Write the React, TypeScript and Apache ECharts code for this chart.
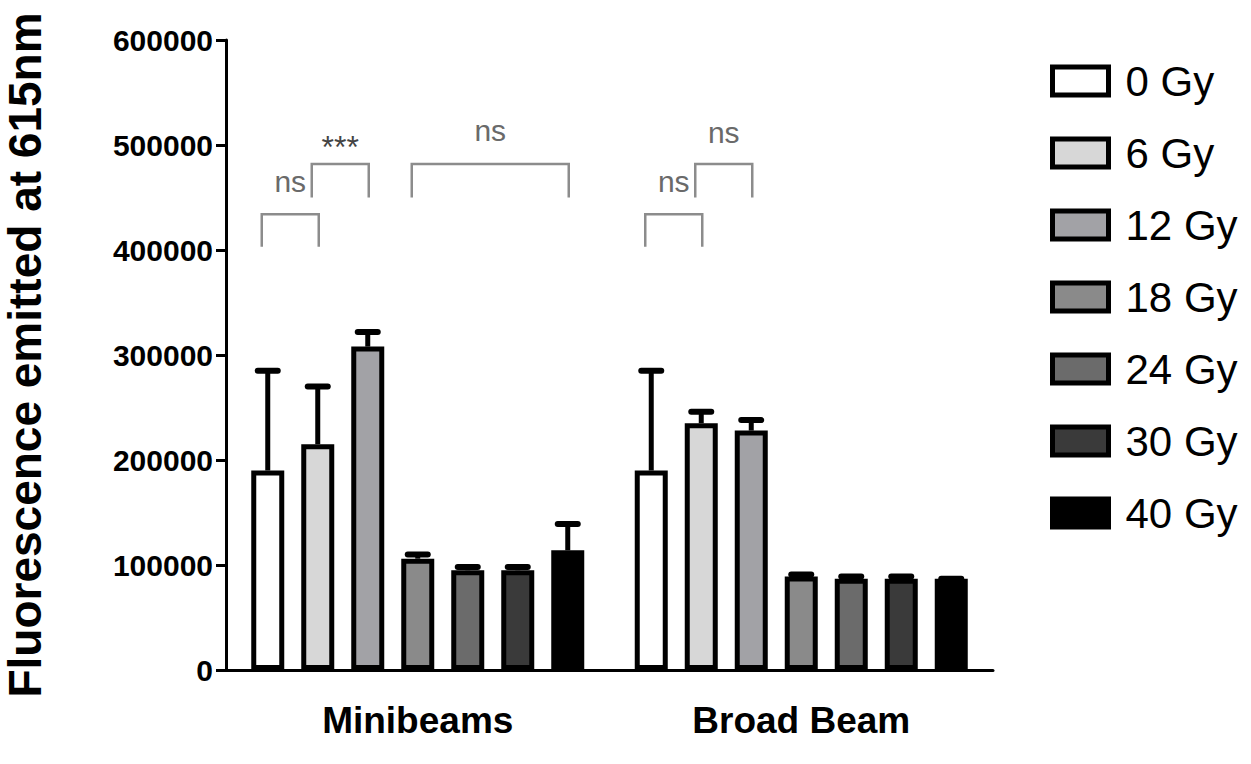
import React, { useEffect, useRef } from 'react';
import * as echarts from 'echarts';

const categories = ['Minibeams', 'Broad Beam'];
const doses = ['0 Gy', '6 Gy', '12 Gy', '18 Gy', '24 Gy', '30 Gy', '40 Gy'];
const doseColors = ['#ffffff', '#d7d7d7', '#a2a2a6', '#8a8a8a', '#6b6b6b', '#3a3a3a', '#000000'];

const minibeamsMean = [190000, 215000, 308000, 106000, 95000, 95000, 114000];
const minibeamsUpper = [285000, 270000, 322000, 110000, 98000, 98000, 139000];
const broadBeamMean = [190000, 235000, 228000, 89000, 87000, 87000, 87000];
const broadBeamUpper = [285000, 246000, 238000, 91000, 89000, 89000, 87000];

const yMin = 0;
const yMax = 600000;
const yInterval = 100000;

// significance brackets (category index, from dose index, to dose index, values in data units)
const bracketCat = [0, 0, 0, 1, 1];
const bracketFrom = [0, 1, 3, 0, 1];
const bracketTo = [1, 2, 6, 1, 2];
const bracketTop = [434000, 482000, 482000, 434000, 482000];
const bracketLeg = [403000, 450000, 450000, 403000, 450000];
const bracketLabel = ['ns', '***', 'ns', 'ns', 'ns'];
const bracketLabelY = [465000, 498000, 514000, 465000, 512000];

const BAR_WIDTH = 33;
const BAR_GAP_PX = 17;
const BAR_PITCH = BAR_WIDTH + BAR_GAP_PX;

export default function App() {
  const ref = useRef<HTMLDivElement>(null);

  useEffect(() => {
    if (!ref.current) return;
    const chart = echarts.init(ref.current, null, { renderer: 'svg' });

    const barSeries = doses.map((d, i) => ({
      type: 'bar',
      name: d,
      data: [minibeamsMean[i], broadBeamMean[i]],
      barWidth: BAR_WIDTH,
      barGap: (BAR_GAP_PX / BAR_WIDTH) * 100 + '%',
      itemStyle: { color: doseColors[i], borderColor: '#000', borderWidth: 5 },
      emphasis: { disabled: true },
      z: 2,
    }));

    const errData: number[][] = [];
    doses.forEach((_, i) => {
      errData.push([0, i, minibeamsMean[i], minibeamsUpper[i]]);
      errData.push([1, i, broadBeamMean[i], broadBeamUpper[i]]);
    });

    const errorSeries = {
      type: 'custom',
      name: 'error',
      silent: true,
      z: 3,
      data: errData,
      encode: { x: 0, y: [2, 3] },
      renderItem: (params: any, api: any) => {
        const cat = api.value(0);
        const dose = api.value(1);
        const mean = api.value(2);
        const up = api.value(3);
        const base = api.coord([cat, mean]);
        const top = api.coord([cat, up]);
        const x = base[0] + (dose - 3) * BAR_PITCH;
        return {
          type: 'group',
          children: [
            { type: 'line', shape: { x1: x, y1: base[1], x2: x, y2: top[1] }, style: { stroke: '#000', lineWidth: 5 } },
            { type: 'line', shape: { x1: x - 10, y1: top[1], x2: x + 10, y2: top[1] }, style: { stroke: '#000', lineWidth: 6, lineCap: 'round' } },
          ],
        };
      },
    };

    const bracketSeries = {
      type: 'custom',
      name: 'brackets',
      silent: true,
      z: 4,
      data: bracketCat.map((c, i) => [c, bracketTop[i]]),
      renderItem: (params: any, api: any) => {
        const i = params.dataIndex;
        const c = bracketCat[i];
        const center = api.coord([c, 0])[0];
        const xl = center + (bracketFrom[i] - 3) * BAR_PITCH - 6;
        const xr = center + (bracketTo[i] - 3) * BAR_PITCH + 1;
        const yTop = api.coord([c, bracketTop[i]])[1];
        const yLeg = api.coord([c, bracketLeg[i]])[1];
        const yLab = api.coord([c, bracketLabelY[i]])[1];
        const isStar = bracketLabel[i] === '***';
        return {
          type: 'group',
          children: [
            {
              type: 'polyline',
              shape: { points: [[xl, yLeg], [xl, yTop], [xr, yTop], [xr, yLeg]] },
              style: { stroke: '#8c8c8c', lineWidth: 2.5, fill: 'none' },
            },
            {
              type: 'text',
              x: (xl + xr) / 2,
              y: yLab,
              style: {
                text: bracketLabel[i],
                fontSize: isStar ? 32 : 30,
                fontFamily: 'Liberation Sans, Arial, sans-serif',
                fill: isStar ? '#444' : '#6a6a6a',
                align: 'center',
                verticalAlign: 'middle',
              },
            },
          ],
        };
      },
    };

    chart.setOption({
      animation: false,
      backgroundColor: '#ffffff',
      grid: { left: 226, right: 258, top: 40, bottom: 94, outerBoundsMode: 'none' },
      legend: {
        orient: 'vertical',
        left: 1045,
        top: 55,
        itemWidth: 56,
        itemHeight: 28,
        itemGap: 30,
        icon: 'rect',
        selectedMode: false,
        data: doses,
        itemStyle: { borderColor: '#000', borderWidth: 5 },
        textStyle: {
          fontSize: 42,
          lineHeight: 42,
          fontFamily: 'Liberation Sans, Arial, sans-serif',
          color: '#000',
          padding: [0, 0, 0, 12],
        },
      },
      xAxis: {
        type: 'category',
        data: categories,
        axisLine: { lineStyle: { color: '#000', width: 3 } },
        axisTick: { alignWithLabel: true, length: 10, lineStyle: { color: '#000', width: 3 } },
        axisLabel: {
          color: '#000',
          fontSize: 37,
          fontWeight: 'bold',
          fontFamily: 'Liberation Sans, Arial, sans-serif',
          margin: 32,
        },
      },
      yAxis: {
        type: 'value',
        min: yMin,
        max: yMax,
        interval: yInterval,
        name: 'Fluorescence emitted at 615nm',
        nameLocation: 'middle',
        nameRotate: 90,
        nameGap: 178,
        nameTextStyle: {
          color: '#000',
          fontSize: 46,
          fontWeight: 'bold',
          fontFamily: 'Liberation Sans, Arial, sans-serif',
        },
        splitLine: { show: false },
        axisLine: { show: true, lineStyle: { color: '#000', width: 3 } },
        axisTick: { show: true, length: 10, lineStyle: { color: '#000', width: 3 } },
        axisLabel: {
          color: '#000',
          fontSize: 30,
          fontWeight: 'bold',
          fontFamily: 'Liberation Sans, Arial, sans-serif',
          margin: 13,
          formatter: (v: number) => String(v),
        },
      },
      series: [...barSeries, errorSeries, bracketSeries],
    });

    return () => chart.dispose();
  }, []);

  return <div ref={ref} style={{ position: 'fixed', left: 0, top: 0, width: 1251, height: 764 }} />;
}
